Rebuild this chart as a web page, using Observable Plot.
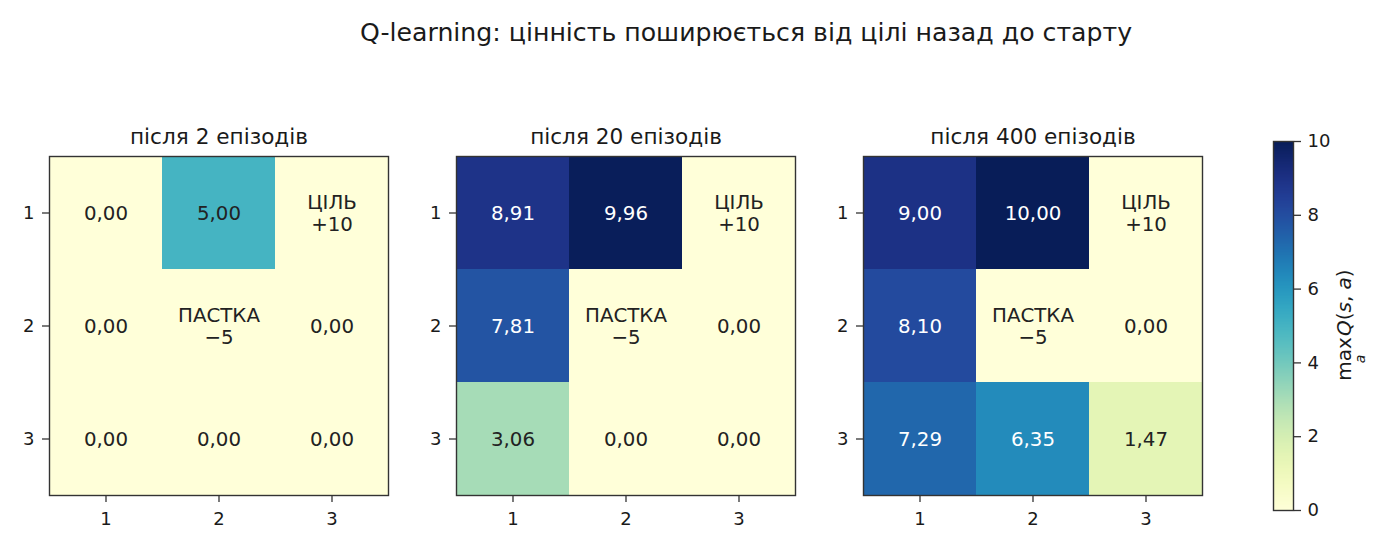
<!DOCTYPE html>
<html><head><meta charset="utf-8">
<script src="https://cdn.jsdelivr.net/npm/d3@7"></script>
<script src="https://cdn.jsdelivr.net/npm/@observablehq/plot@0.6"></script>
<style>
body{margin:0;background:#fff;font-family:"DejaVu Sans",sans-serif;}
#root{position:relative;width:1394px;height:551px;overflow:hidden;background:#fff;}
.abs{position:absolute;}
#title{left:246px;width:1000px;top:18px;text-align:center;font-size:25.2px;color:#1a1a1a;line-height:30px;}
#cblabel{left:1350px;top:325px;transform:translate(-50%,-50%) rotate(-90deg);font-size:20px;color:#1a1a1a;white-space:nowrap;display:flex;align-items:flex-start;}
#cblabel .op{display:inline-flex;flex-direction:column;align-items:center;line-height:1;}
#cblabel .op .sub{font-size:14px;font-style:italic;margin-top:-1px;}
#cblabel .rest{line-height:1;margin-left:1px;}
</style></head><body><div id="root"><div id="title" class="abs">Q-learning: цінність поширюється від цілі назад до старту</div>
<div id="cblabel" class="abs"><span class="op"><span>max</span><span class="sub">a</span></span><span class="rest"><i>Q</i>(<i>s</i>, <i>a</i>)</span></div></div>
<script>
// ---- data ----
const panelTitles = ["після 2 епізодів", "після 20 епізодів", "після 400 епізодів"];
const rowLabels = [1, 2, 3];
const colLabels = [1, 2, 3];
const values2 = [[0.00, 5.00, null], [0.00, null, 0.00], [0.00, 0.00, 0.00]];
const values20 = [[8.91, 9.96, null], [7.81, null, 0.00], [3.06, 0.00, 0.00]];
const values400 = [[9.00, 10.00, null], [8.10, null, 0.00], [7.29, 6.35, 1.47]];
const specialCells = [
  {row: 1, col: 3, label: "ЦІЛЬ\n+10"},
  {row: 2, col: 2, label: "ПАСТКА\n−5"}
];
const colorDomain = [0, 10];
const colorTicks = [0, 2, 4, 6, 8, 10];
const textThreshold = 5;

// ---- layout ----
const root = document.getElementById("root");
const panelValues = [values2, values20, values400];
const frameLefts = [49, 456, 863];
const frameTop = 156, frameSize = 339;
const mL = 50, mR = 10, mT = 45, mB = 45;
const fmt = v => v.toFixed(2).replace(".", ",");
const color = {type: "linear", scheme: "YlGnBu", domain: colorDomain};

panelValues.forEach((vals, i) => {
  const cells = [];
  rowLabels.forEach((r, ri) => colLabels.forEach((c, ci) => {
    const sp = specialCells.find(s => s.row === r && s.col === c);
    const v = vals[ri][ci];
    cells.push({row: r, col: c, value: v, label: sp ? sp.label : fmt(v)});
  }));
  const dark = d => d.value != null && d.value > textThreshold;
  const svg = Plot.plot({
    width: frameSize + mL + mR,
    height: frameSize + mT + mB,
    marginLeft: mL, marginRight: mR, marginTop: mT, marginBottom: mB,
    style: {fontFamily: "DejaVu Sans", fontSize: "18px", color: "#1a1a1a", background: "transparent", overflow: "visible"},
    x: {domain: colLabels, padding: 0, label: null, axis: null},
    y: {domain: rowLabels, padding: 0, label: null, axis: null},
    color,
    marks: [
      Plot.cell(cells, {x: "col", y: "row", fill: d => d.value ?? 0}),
      Plot.text(cells.filter(d => !dark(d)), {x: "col", y: "row", text: "label", fill: "#222", fontSize: 19.8, lineHeight: 1.1}),
      Plot.text(cells.filter(dark), {x: "col", y: "row", text: "label", fill: "white", fontSize: 19.8, lineHeight: 1.1}),
      Plot.frame({stroke: "#333", strokeWidth: 1.4}),
      Plot.axisX({anchor: "bottom", tickSize: 7, tickPadding: 10, fontSize: 18, stroke: "#333", strokeWidth: 1.3, label: null}),
      Plot.axisY({anchor: "left", tickSize: 7, tickPadding: 8, fontSize: 18, stroke: "#333", strokeWidth: 1.3, label: null}),
      Plot.text([panelTitles[i]], {frameAnchor: "top", dy: -19, fontSize: 21.6, fill: "#1a1a1a", lineAnchor: "middle"})
    ]
  });
  svg.classList.add("abs");
  svg.style.left = (frameLefts[i] - mL) + "px";
  svg.style.top = (frameTop - mT) + "px";
  root.appendChild(svg);
});

// ---- colorbar ----
const cbL = 1273, cbT = 141, cbW = 20, cbH = 369;
const cmL = 5, cmR = 50, cmT = 10, cmB = 10;
const cb = Plot.plot({
  width: cbW + cmL + cmR,
  height: cbH + cmT + cmB,
  marginLeft: cmL, marginRight: cmR, marginTop: cmT, marginBottom: cmB,
  style: {fontFamily: "DejaVu Sans", fontSize: "18px", color: "#1a1a1a", background: "transparent", overflow: "visible"},
  x: {domain: [0, 1], axis: null},
  y: {domain: colorDomain, axis: null},
  color,
  marks: [
    Plot.raster({x1: 0, x2: 1, y1: colorDomain[0], y2: colorDomain[1], fill: (x, y) => y, width: 2, height: 256}),
    Plot.frame({stroke: "#333", strokeWidth: 1.4}),
    Plot.axisY({anchor: "right", ticks: colorTicks, tickFormat: d => String(d), tickSize: 7, tickPadding: 7, fontSize: 18, stroke: "#333", strokeWidth: 1.3, label: null})
  ]
});
cb.classList.add("abs");
cb.style.left = (cbL - cmL) + "px";
cb.style.top = (cbT - cmT) + "px";
root.appendChild(cb);
</script></body></html>
